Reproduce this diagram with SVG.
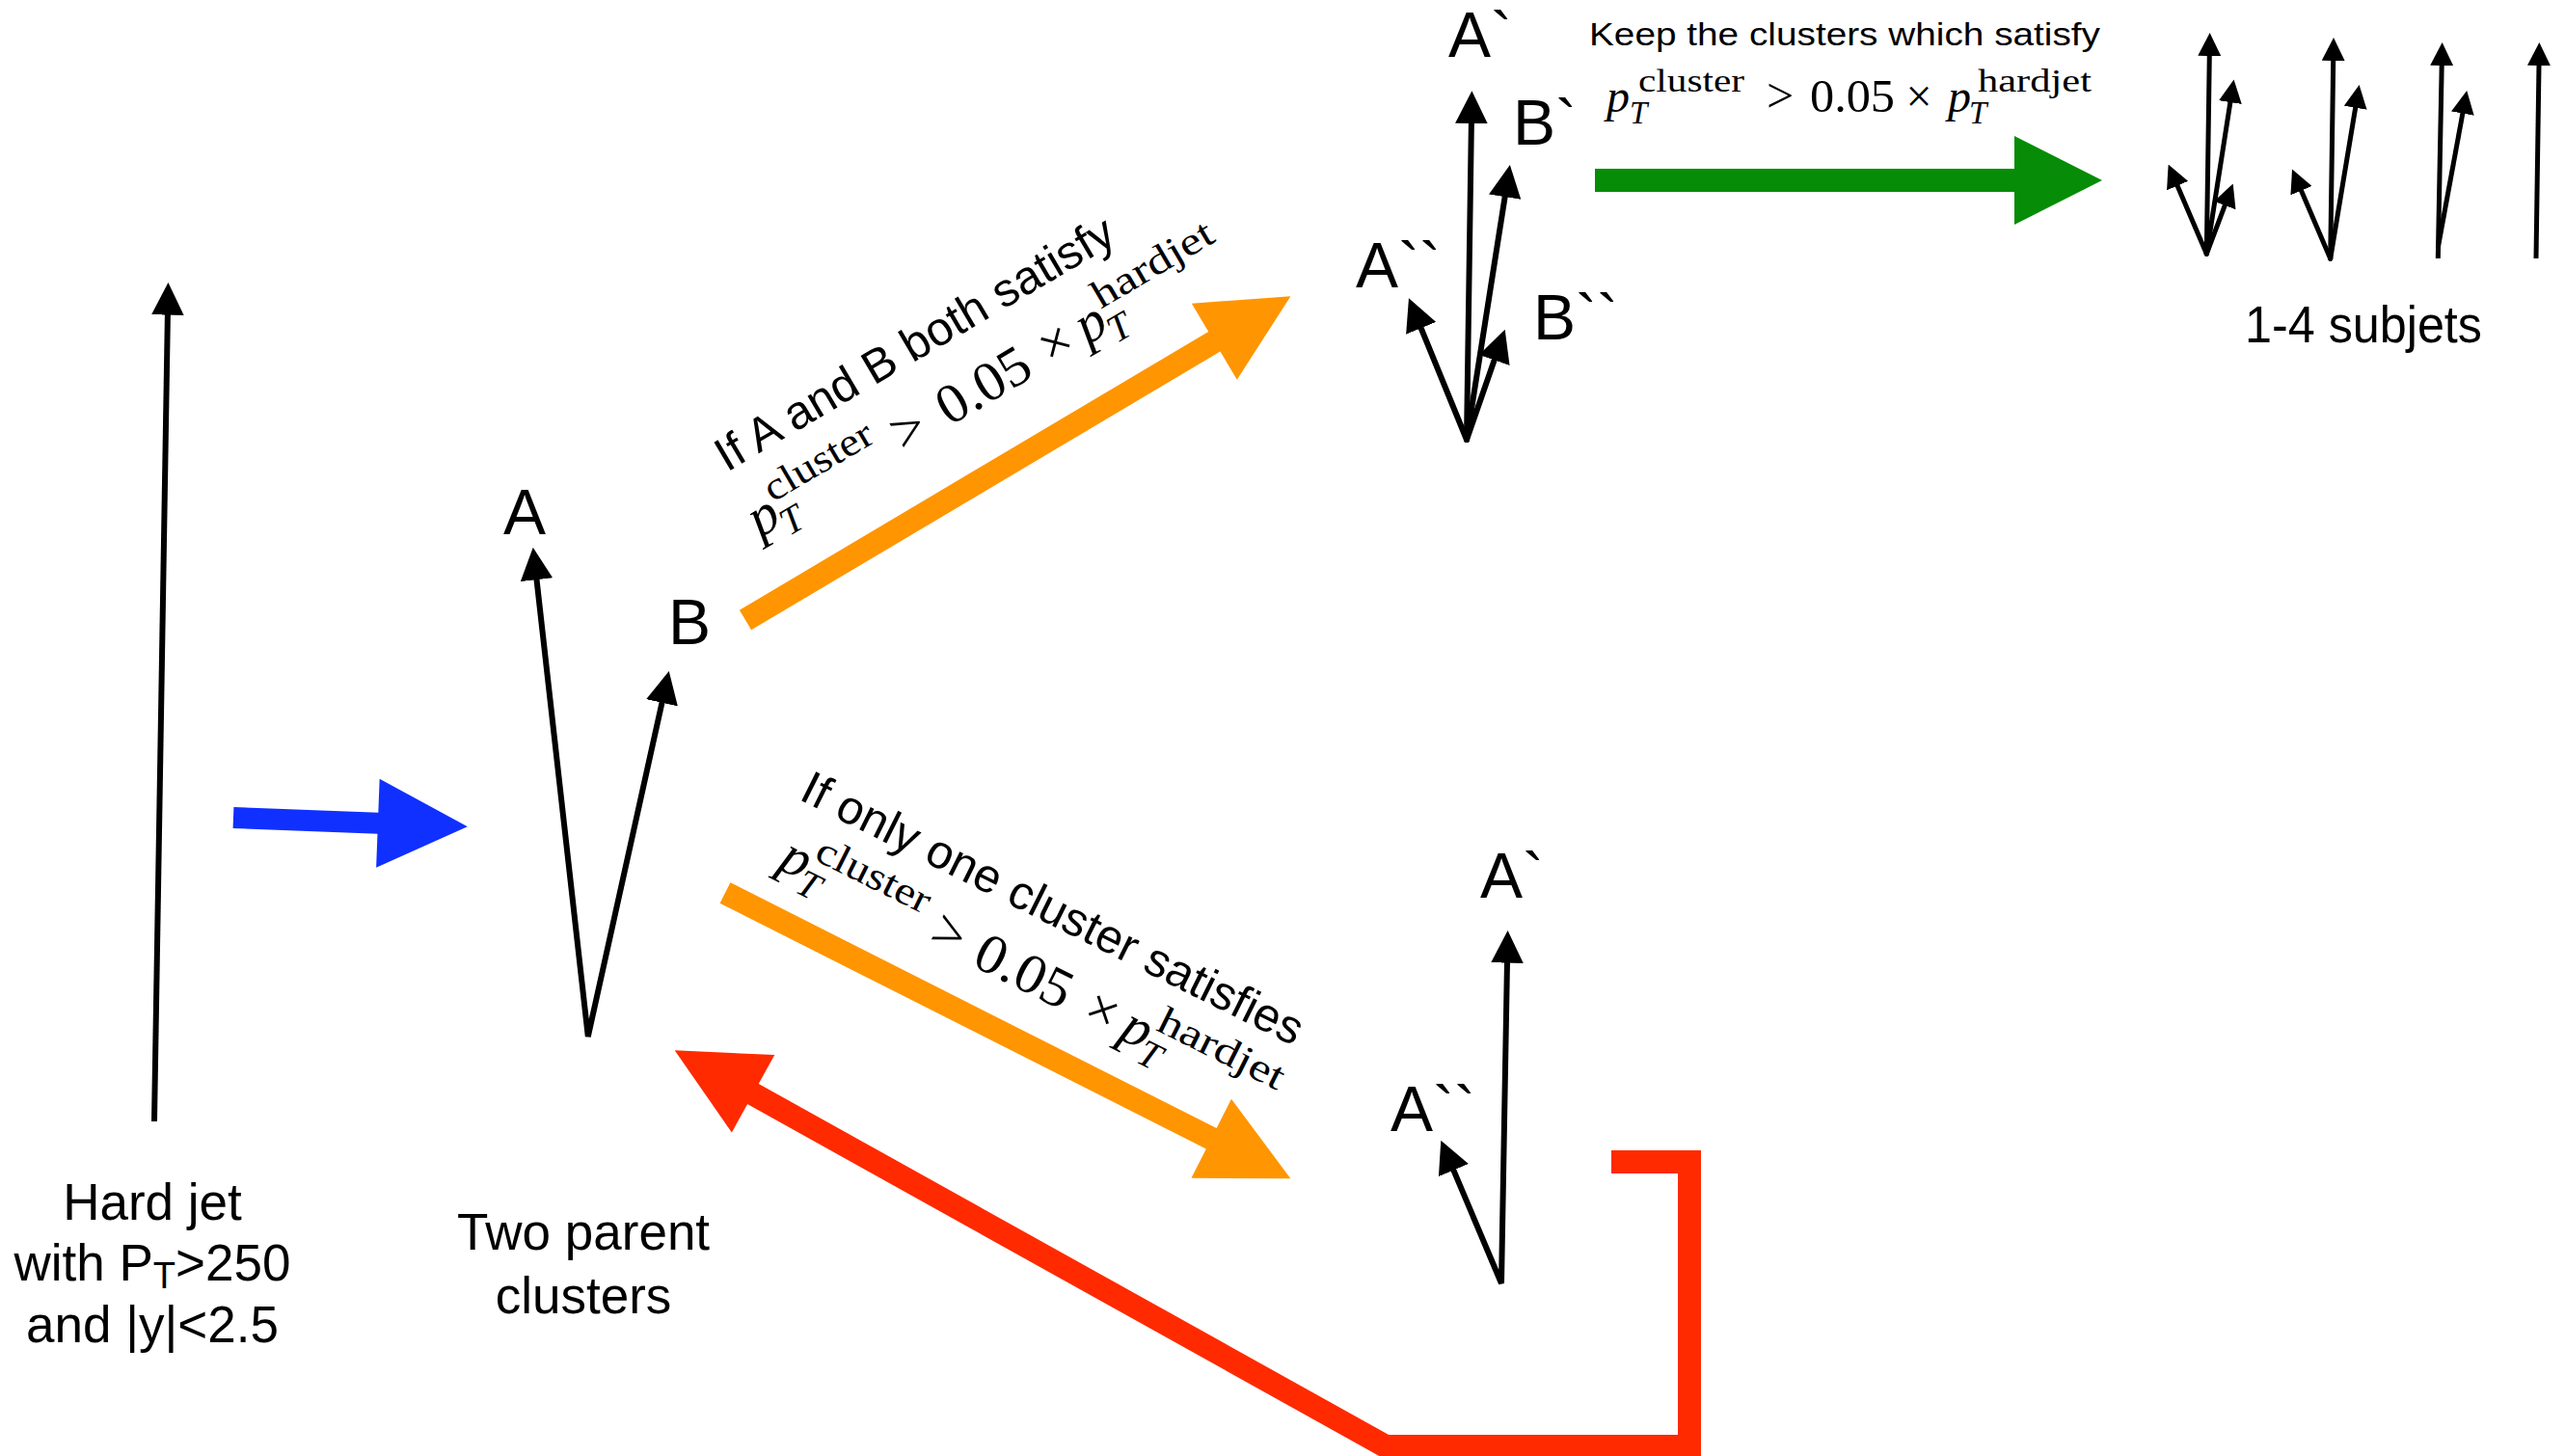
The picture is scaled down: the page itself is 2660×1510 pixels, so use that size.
<svg xmlns="http://www.w3.org/2000/svg" width="2660" height="1510" viewBox="0 0 2660 1510">
<style>
.t{font-family:"Liberation Sans",Arial,sans-serif;fill:#000}
.lbl{font-family:"Liberation Sans",Arial,sans-serif;font-size:66px;fill:#000}
.m{font-family:"Liberation Serif","Times New Roman",serif;fill:#000}
.i{font-style:italic}
.jet{stroke:#000;stroke-width:6;fill:none;marker-end:url(#ah)}
.sj{stroke:#000;stroke-width:5;fill:none;stroke-linecap:round;marker-end:url(#ahs)}
.sjb{stroke:#000;stroke-width:5;fill:none;marker-end:url(#ahs)}
</style>
<defs>
<marker id="ah" viewBox="0 0 10 10" refX="0.3" refY="5" markerWidth="5.6" markerHeight="5.6" orient="auto-start-reverse" markerUnits="strokeWidth"><path d="M0,0L10,5L0,10z" fill="#000"/></marker>
<marker id="ahs" viewBox="0 0 10 10" refX="0.3" refY="5" markerWidth="4.8" markerHeight="4.8" orient="auto" markerUnits="strokeWidth"><path d="M0,0L10,5L0,10z" fill="#000"/></marker>
</defs>
<rect width="2660" height="1510" fill="#fff"/>

<g id="connectors">
  <g id="blue-arrow" transform="translate(242,848) rotate(2.2)"><polygon fill="#1030FF" points="0,-11 150,-11 150,-46 243,0 150,46 150,11 0,11"/></g>
  <g id="orange-up" transform="translate(773,643) rotate(-30.7)"><polygon fill="#FF9500" points="0,-12 565.6,-12 565.6,-46 657.6,0 565.6,46 565.6,12 0,12"/></g>
  <g id="orange-down" transform="translate(752,926) rotate(26.8)"><polygon fill="#FF9500" points="0,-12 564.9,-12 564.9,-46 656.9,0 564.9,46 564.9,12 0,12"/></g>
  <polygon id="green-arrow" fill="#068C06" points="1654,175 2089,175 2089,141 2180,187 2089,233 2089,199 1654,199"/>
  <g id="red-loop">
    <path d="M1671,1205 H1752 V1500 H1437 L780,1134" fill="none" stroke="#FF2A00" stroke-width="24" stroke-linejoin="miter"/>
    <g transform="translate(780.2,1133.8) rotate(208.9)"><polygon fill="#FF2A00" points="-1,-46 92,0 -1,46"/></g>
  </g>
</g>

<g id="hard-jet">
  <path class="jet" d="M160,1163 L173.9,325.6"/>
  <text class="t" font-size="53" text-anchor="middle" x="158" y="1265">Hard jet</text>
  <text class="t" font-size="53" text-anchor="middle" x="158" y="1328">with P<tspan font-size="38" dy="8">T</tspan><tspan dy="-8">&gt;250</tspan></text>
  <text class="t" font-size="53" text-anchor="middle" x="158" y="1392">and |y|&lt;2.5</text>
</g>

<g id="two-parents">
  <path d="M556.4,600.2 L609.8,1075 L686.7,727.8" stroke="#000" stroke-width="6" fill="none" marker-start="url(#ah)" marker-end="url(#ah)"/>
  <text class="lbl" x="522" y="554">A</text>
  <text class="lbl" x="693" y="668">B</text>
  <text class="t" font-size="53" text-anchor="middle" x="605" y="1296">Two parent</text>
  <text class="t" font-size="53" text-anchor="middle" x="605" y="1362">clusters</text>
</g>

<g id="label-both" transform="translate(788,558) rotate(-30.5)">
  <text class="t" font-size="49" x="5" y="-76">If A and B both satisfy</text>
  <text class="m i" font-size="58" x="0" y="0">p</text>
  <text class="m i" font-size="40" x="27" y="14">T</text>
  <text class="m" font-size="41" x="30" y="-25" textLength="125" lengthAdjust="spacingAndGlyphs">cluster</text>
  <text class="m" font-size="60" x="190" y="0" text-anchor="middle">&gt;</text>
  <text class="m" font-size="58" x="228" y="0" textLength="104" lengthAdjust="spacingAndGlyphs">0.05</text>
  <text class="m" font-size="58" x="367" y="0" text-anchor="middle">×</text>
  <text class="m i" font-size="58" x="394" y="0">p</text>
  <text class="m i" font-size="40" x="421" y="14">T</text>
  <text class="m" font-size="41" x="425" y="-25" textLength="140" lengthAdjust="spacingAndGlyphs">hardjet</text>
</g>

<g id="label-one" transform="translate(805,900) rotate(26.5)">
  <text class="t" font-size="49" x="-12" y="-74">If only one cluster satisfies</text>
  <text class="m i" font-size="58" x="0" y="0">p</text>
  <text class="m i" font-size="40" x="27" y="14">T</text>
  <text class="m" font-size="41" x="30" y="-25" textLength="128" lengthAdjust="spacingAndGlyphs">cluster</text>
  <text class="m" font-size="60" x="191" y="0" text-anchor="middle">&gt;</text>
  <text class="m" font-size="58" x="225" y="0" textLength="106" lengthAdjust="spacingAndGlyphs">0.05</text>
  <text class="m" font-size="58" x="369" y="0" text-anchor="middle">×</text>
  <text class="m i" font-size="58" x="395" y="0">p</text>
  <text class="m i" font-size="40" x="422" y="14">T</text>
  <text class="m" font-size="41" x="426" y="-25" textLength="142" lengthAdjust="spacingAndGlyphs">hardjet</text>
</g>

<g id="four-clusters">
  <path class="jet" stroke-linecap="round" d="M1521,456 L1525.9,126.9"/>
  <path class="jet" stroke-linecap="round" d="M1521,456 L1560.8,203.2"/>
  <path class="jet" stroke-linecap="round" d="M1521,456 L1473.3,339.4"/>
  <path class="jet" stroke-linecap="round" d="M1521,456 L1550,372.5"/>
  <text class="lbl" x="1502" y="59">A`</text>
  <text class="lbl" x="1569" y="150">B`</text>
  <text class="lbl" x="1406" y="298">A``</text>
  <text class="lbl" x="1590" y="352">B``</text>
</g>

<g id="keep-label">
  <text class="t" font-size="34" x="1648" y="47" textLength="530" lengthAdjust="spacingAndGlyphs">Keep the clusters which satisfy</text>
  <text class="m i" font-size="48" x="1666" y="116">p</text>
  <text class="m i" font-size="33" x="1690" y="128">T</text>
  <text class="m" font-size="34" x="1699" y="95" textLength="110" lengthAdjust="spacingAndGlyphs">cluster</text>
  <text class="m" font-size="50" x="1846" y="116" text-anchor="middle">&gt;</text>
  <text class="m" font-size="48" x="1877" y="116" textLength="88" lengthAdjust="spacingAndGlyphs">0.05</text>
  <text class="m" font-size="48" x="1990" y="116" text-anchor="middle">×</text>
  <text class="m i" font-size="48" x="2020" y="116">p</text>
  <text class="m i" font-size="33" x="2042" y="128">T</text>
  <text class="m" font-size="34" x="2051" y="95" textLength="118" lengthAdjust="spacingAndGlyphs">hardjet</text>
</g>

<g id="one-cluster">
  <path d="M1507,1212.7 L1557,1331 L1563,997.6" stroke="#000" stroke-width="6" fill="none" marker-start="url(#ah)" marker-end="url(#ah)"/>
  <text class="lbl" x="1535" y="931">A`</text>
  <text class="lbl" x="1442" y="1173">A``</text>
</g>

<g id="subjets">
  <path class="sj" d="M2288.3,263.3 L2291.3,57.3"/>
  <path class="sj" d="M2288.3,263.3 L2313,105.4"/>
  <path class="sj" d="M2288.3,263.3 L2307.5,212.4"/>
  <path class="sj" d="M2288.3,263.3 L2257.8,192"/>
  <path class="sj" d="M2416.7,268.3 L2419.7,62.3"/>
  <path class="sj" d="M2416.7,268.3 L2442.8,111"/>
  <path class="sj" d="M2416.7,268.3 L2386.2,197"/>
  <path class="sjb" d="M2528.3,268 L2532.2,67.3"/>
  <path class="sjb" d="M2528.3,256.7 L2554,116.9"/>
  <path class="sjb" d="M2630,268 L2633,67.3"/>
  <text class="t" font-size="54" text-anchor="middle" x="2451" y="355" textLength="246" lengthAdjust="spacingAndGlyphs">1-4 subjets</text>
</g>
</svg>
